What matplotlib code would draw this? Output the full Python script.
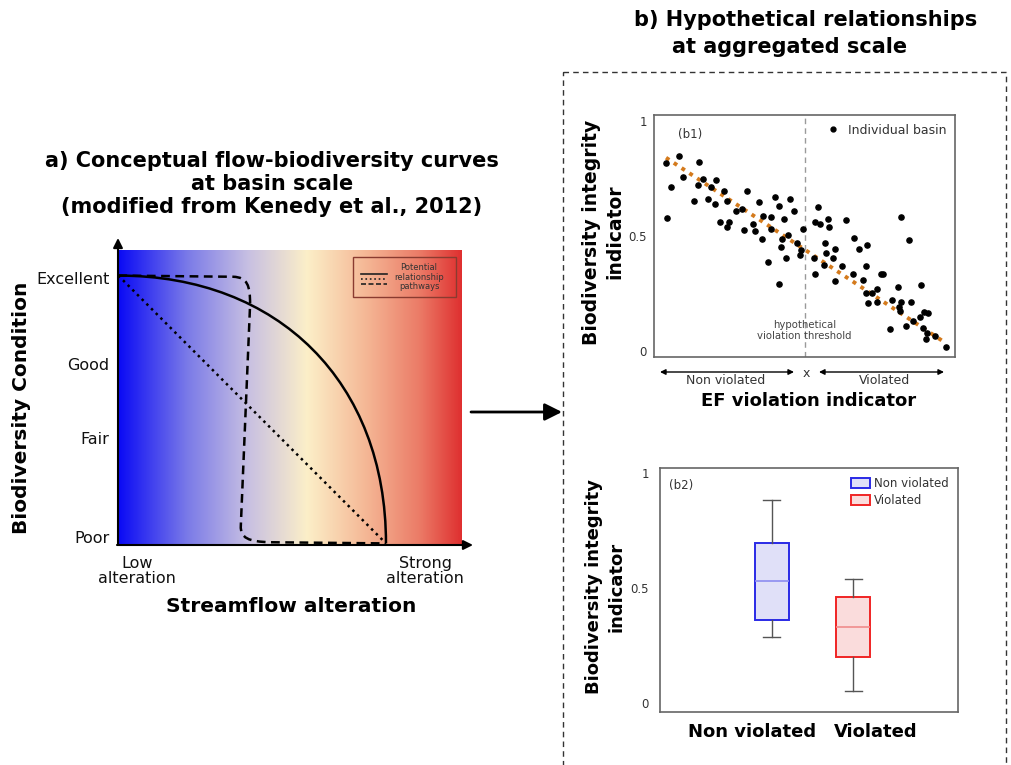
import matplotlib.pyplot as plt
import numpy as np
from matplotlib.colors import LinearSegmentedColormap
from matplotlib.lines import Line2D
from matplotlib.patches import Patch, PathPatch, Rectangle
from matplotlib.path import Path

W, H = 1011, 765

# ---- panel a: conceptual curves (x: alteration 0-1, y: condition 0-1)
cond_ticks = [0.024, 0.361, 0.612, 0.905]
cond_labels = ["Poor", "Fair", "Good", "Excellent"]

# bezier vertices
solid_x = [0.001, 0.468, 0.779, 0.779]
solid_y = [0.913, 0.913, 0.549, 0.002]
solid_codes = [Path.MOVETO, Path.CURVE4, Path.CURVE4, Path.CURVE4]
dotted_x = [0.001, 0.779]
dotted_y = [0.913, 0.002]
dashed_x = [0.001, 0.335, 0.376, 0.384, 0.384, 0.357, 0.355, 0.380, 0.442, 0.779]
dashed_y = [0.913, 0.909, 0.907, 0.880, 0.815, 0.062, 0.020, 0.008, 0.006, 0.002]
dashed_codes = [Path.MOVETO, Path.LINETO, Path.CURVE4, Path.CURVE4, Path.CURVE4,
                Path.LINETO, Path.CURVE4, Path.CURVE4, Path.CURVE4, Path.LINETO]

# ---- panel b1: individual basins
basin_x = [0.040, 0.044, 0.055, 0.082, 0.097, 0.134, 0.146, 0.150, 0.162, 0.178,
           0.190, 0.204, 0.207, 0.219, 0.232, 0.244, 0.244, 0.250, 0.272, 0.292,
           0.300, 0.309, 0.330, 0.336, 0.350, 0.358, 0.361, 0.379, 0.389, 0.388,
           0.401, 0.416, 0.416, 0.422, 0.424, 0.431, 0.440, 0.446, 0.452, 0.465,
           0.474, 0.485, 0.487, 0.496, 0.533, 0.535, 0.535, 0.546, 0.552, 0.565,
           0.569, 0.570, 0.578, 0.583, 0.595, 0.600, 0.601, 0.625, 0.638, 0.662,
           0.665, 0.681, 0.695, 0.703, 0.703, 0.707, 0.710, 0.723, 0.740, 0.742,
           0.753, 0.760, 0.783, 0.791, 0.811, 0.815, 0.818, 0.821, 0.821, 0.836,
           0.846, 0.853, 0.862, 0.884, 0.886, 0.894, 0.897, 0.905, 0.908, 0.910,
           0.932, 0.969]
basin_y = [0.817, 0.579, 0.714, 0.846, 0.754, 0.653, 0.722, 0.822, 0.747, 0.662,
           0.711, 0.637, 0.742, 0.562, 0.696, 0.653, 0.540, 0.559, 0.610, 0.615,
           0.526, 0.695, 0.552, 0.523, 0.646, 0.488, 0.585, 0.386, 0.581, 0.530,
           0.667, 0.630, 0.292, 0.451, 0.486, 0.574, 0.406, 0.506, 0.660, 0.608,
           0.468, 0.416, 0.441, 0.530, 0.406, 0.337, 0.559, 0.627, 0.550, 0.373,
           0.470, 0.427, 0.572, 0.540, 0.405, 0.444, 0.304, 0.371, 0.568, 0.334,
           0.493, 0.442, 0.308, 0.369, 0.255, 0.459, 0.211, 0.255, 0.272, 0.214,
           0.334, 0.336, 0.099, 0.224, 0.281, 0.194, 0.177, 0.581, 0.213, 0.109,
           0.484, 0.214, 0.132, 0.151, 0.289, 0.102, 0.171, 0.054, 0.082, 0.165,
           0.069, 0.021]
trend_x = [0.040, 0.965]
trend_y = [0.839, 0.040]
threshold = 0.5

# ---- panel b2: box statistics
groups = ["Non violated", "Violated"]
box_stats = [
    dict(whislo=0.285, q1=0.360, med=0.528, q3=0.693, whishi=0.881),
    dict(whislo=0.053, q1=0.198, med=0.331, q3=0.462, whishi=0.538),
]
box_edge = ["#2a2ae6", "#f02424"]
box_face = ["#e0e0f8", "#fadcdc"]
box_median = ["#8c8cf0", "#f08c8c"]


def px_rect(left, top, right, bottom):
    return [left / W, 1 - bottom / H, (right - left) / W, (bottom - top) / H]


fig = plt.figure(figsize=(W / 100, H / 100), dpi=100)
fig.patch.set_facecolor("white")

# ================= panel a =================
ax_a = fig.add_axes(px_rect(118, 250, 462, 544))
cmap = LinearSegmentedColormap.from_list("flow", [
    (0.0, "#0a0af5"), (0.2, "#7a7ae8"), (0.38, "#c8c0e2"), (0.55, "#fcefc8"),
    (0.72, "#f5b896"), (0.88, "#eb7a66"), (1.0, "#df3030")])
ax_a.imshow(np.linspace(0, 1, 512)[None, :], cmap=cmap, aspect="auto",
            extent=[0, 1, 0, 1], zorder=0)
ax_a.add_patch(PathPatch(Path(np.column_stack([solid_x, solid_y]), solid_codes),
                         fill=False, edgecolor="black", lw=1.8, zorder=3))
ax_a.plot(dotted_x, dotted_y, color="black", lw=1.8, ls=":", zorder=3)
ax_a.add_patch(PathPatch(Path(np.column_stack([dashed_x, dashed_y]), dashed_codes),
                         fill=False, edgecolor="black", lw=1.8, ls=(0, (3.5, 2.2)),
                         zorder=3))
ax_a.set_xlim(0, 1)
ax_a.set_ylim(0, 1)
ax_a.set_xticks([])
ax_a.set_yticks(cond_ticks, cond_labels, fontsize=11.5)
ax_a.tick_params(axis="y", length=0, pad=6, colors="#111111")
for s in ax_a.spines.values():
    s.set_visible(False)

# legend box in panel a
ax_a.add_patch(Rectangle((0.683, 0.840), 0.300, 0.136, transform=ax_a.transAxes,
                         fill=False, edgecolor="#8a3b30", lw=1, zorder=4))
for yy, ls in zip([0.920, 0.901, 0.883], ["-", ":", (0, (3, 1.5))]):
    ax_a.plot([0.706, 0.782], [yy, yy], transform=ax_a.transAxes, color="#222222",
              lw=1.2, ls=ls, zorder=4)
ax_a.text(0.875, 0.908, "Potential\nrelationship\npathways", transform=ax_a.transAxes,
          ha="center", va="center", fontsize=6, color="#333333", linespacing=1.1, zorder=4)

# ================= panel b1 =================
ax_b1 = fig.add_axes(px_rect(654, 115, 955, 357))
ax_b1.scatter(basin_x, basin_y, s=14, color="black", zorder=3)
ax_b1.plot(trend_x, trend_y, color="#d47a1c", lw=2.8, ls=(0, (1, 1.4)), zorder=2)
ax_b1.axvline(threshold, color="#9a9a9a", lw=1, ls=(0, (4, 3)), zorder=1)
ax_b1.set_xlim(0, 1)
ax_b1.set_ylim(-0.024, 1.024)
ax_b1.set_xticks([])
ax_b1.set_yticks([0, 0.5, 1], ["0", "0.5", "1"], fontsize=8.5)
ax_b1.tick_params(axis="y", length=0, pad=5, colors="#333333")
for s in ax_b1.spines.values():
    s.set_color("#666666")
    s.set_linewidth(1.2)
ax_b1.text(0.12, 0.92, "(b1)", transform=ax_b1.transAxes, fontsize=8.5,
           color="#333333", ha="center", va="center")
ax_b1.text(threshold, 0.09, "hypothetical\nviolation threshold", fontsize=7.3,
           color="#444444", ha="center", va="center", linespacing=1.1)
ax_b1.legend(handles=[Line2D([], [], marker="o", ls="", color="black", markersize=3.5)],
             labels=["Individual basin"], loc="upper right", frameon=False,
             fontsize=9, handletextpad=0.2, borderaxespad=0.3, labelcolor="#333333")

# ================= panel b2 =================
ax_b2 = fig.add_axes(px_rect(660, 468, 958, 712))
bp = ax_b2.bxp(box_stats, positions=[0.375, 0.649], widths=0.114, showfliers=False,
               patch_artist=True)
for i in range(2):
    bp["boxes"][i].set(facecolor=box_face[i], edgecolor=box_edge[i], linewidth=1.4)
    bp["medians"][i].set(color=box_median[i], linewidth=1.2)
for ln in bp["whiskers"] + bp["caps"]:
    ln.set(color="#555555", linewidth=1)
ax_b2.set_xlim(0, 1)
ax_b2.set_ylim(-0.039, 1.020)
ax_b2.set_xticks([0.309, 0.725], groups, fontsize=13, fontweight="bold")
ax_b2.tick_params(axis="x", length=0, pad=8)
ax_b2.set_yticks([0, 0.5, 1], ["0", "0.5", "1"], fontsize=8.5)
ax_b2.tick_params(axis="y", length=0, pad=8, colors="#333333")
for s in ax_b2.spines.values():
    s.set_color("#666666")
    s.set_linewidth(1.2)
ax_b2.text(0.07, 0.93, "(b2)", transform=ax_b2.transAxes, fontsize=8.5,
           color="#333333", ha="center", va="center")
ax_b2.legend(handles=[Patch(facecolor=box_face[i], edgecolor=box_edge[i], lw=1.4)
                      for i in range(2)],
             labels=groups, loc="upper right", frameon=False, fontsize=8.5,
             handlelength=1.6, handleheight=0.9, handletextpad=0.3,
             labelspacing=0.3, borderaxespad=0.4, labelcolor="#333333")

# ================= overlay (pixel coordinates) =================
ov = fig.add_axes([0, 0, 1, 1])
ov.set_xlim(0, W)
ov.set_ylim(H, 0)
ov.axis("off")


def arrow(x0, y0, x1, y1, style="-|>", ms=14, lw=1.5):
    ov.annotate("", xy=(x1, y1), xytext=(x0, y0),
                arrowprops=dict(arrowstyle=style, mutation_scale=ms, lw=lw,
                                color="black", shrinkA=0, shrinkB=0))


# panel a axes arrows
arrow(118, 545, 118, 238)
arrow(117, 545, 473, 545)
# middle arrow
arrow(471, 412, 562, 412, ms=26, lw=2)
# b1 x-axis ranges
arrow(660, 372, 794, 372, style="<|-|>", ms=8, lw=1)
arrow(819, 372, 944, 372, style="<|-|>", ms=8, lw=1)
ov.text(806, 373, "x", fontsize=9, ha="center", va="center", color="#333333")
ov.text(726, 380, "Non violated", fontsize=9, ha="center", va="center", color="#333333")
ov.text(885, 380, "Violated", fontsize=9, ha="center", va="center", color="#333333")
ov.text(809, 401, "EF violation indicator", fontsize=13, fontweight="bold",
        ha="center", va="center")

# dashed frame of panel b
ov.add_patch(Rectangle((563, 72), 443, 720, fill=False, edgecolor="#333333",
                       lw=1, ls=(0, (4, 3))))

# titles and labels
title_a = ["a) Conceptual flow-biodiversity curves", "at basin scale",
           "(modified from Kenedy et al., 2012)"]
for line, yy in zip(title_a, [161, 184, 207]):
    ov.text(272, yy, line, fontsize=15, fontweight="bold", ha="center", va="center")
ov.text(806, 20, "b) Hypothetical relationships", fontsize=15, fontweight="bold",
        ha="center", va="center")
ov.text(790, 47, "at aggregated scale", fontsize=15, fontweight="bold",
        ha="center", va="center")
ov.text(22, 408, "Biodiversity Condition", fontsize=14.5, fontweight="bold",
        rotation=90, ha="center", va="center")
ov.text(291, 607, "Streamflow alteration", fontsize=14.5, fontweight="bold",
        ha="center", va="center")
ov.text(137, 571, "Low\nalteration", fontsize=11.5, ha="center", va="center",
        linespacing=1.05, color="#111111")
ov.text(425, 571, "Strong\nalteration", fontsize=11.5, ha="center", va="center",
        linespacing=1.05, color="#111111")
ov.text(603, 232, "Biodiversity integrity\nindicator", fontsize=13.5, fontweight="bold",
        rotation=90, ha="center", va="center", linespacing=1.3)
ov.text(605, 587, "Biodiversity integrity\nindicator", fontsize=13, fontweight="bold",
        rotation=90, ha="center", va="center", linespacing=1.3)

fig.savefig("out.png", dpi=100)
